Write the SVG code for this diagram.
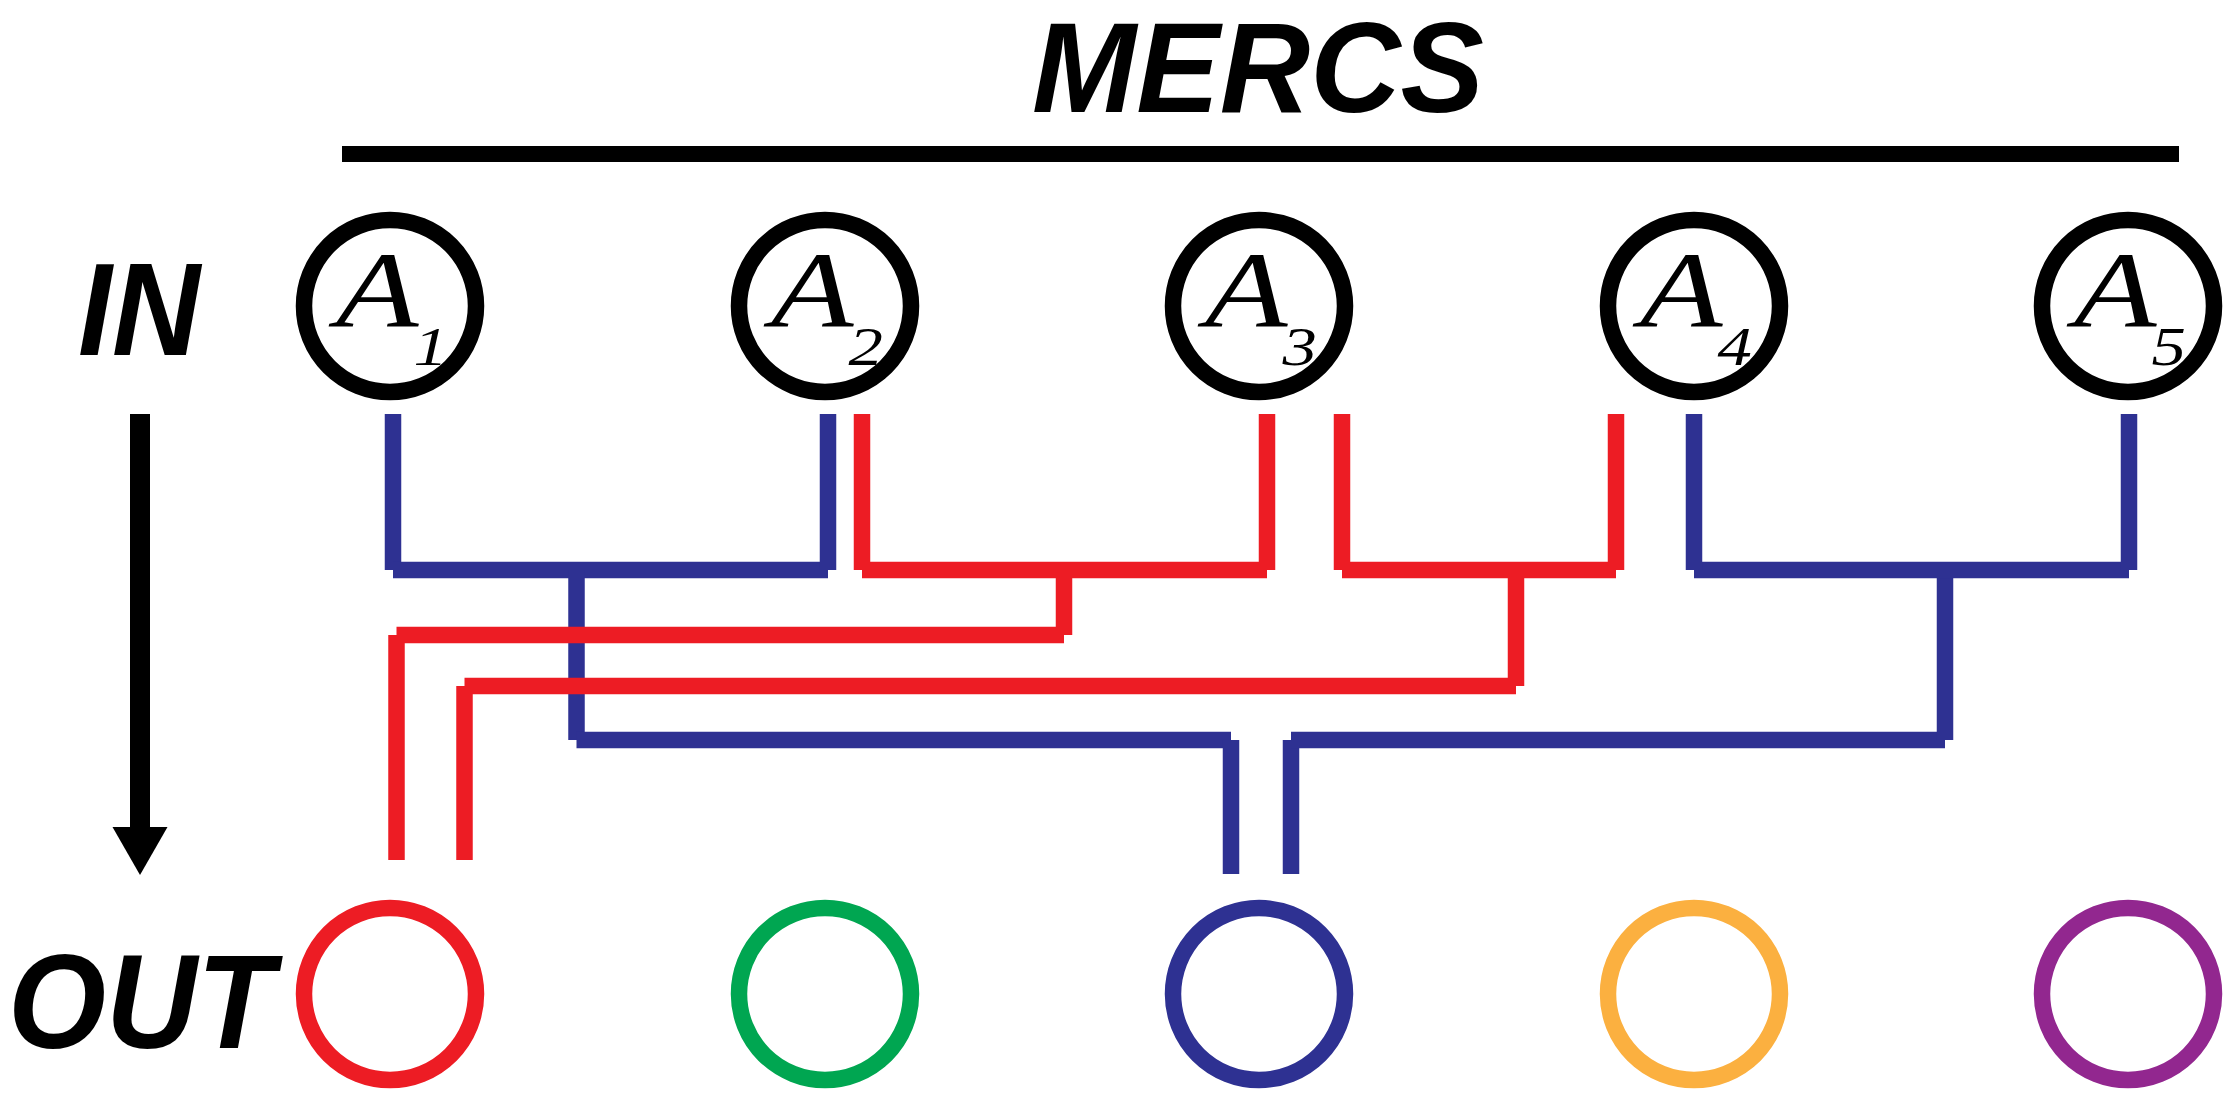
<svg xmlns="http://www.w3.org/2000/svg" width="2226" height="1095" viewBox="0 0 2226 1095">
<style>
.ring{fill:none;stroke-width:16.5}
.top{stroke:#000}
.lbl{font-family:"Liberation Sans",Arial,sans-serif;font-weight:bold;font-style:italic;fill:#000}
.a{font-family:"Liberation Serif","Times New Roman",serif;font-style:italic;fill:#000;font-size:108px}
.s{font-size:55px}
.b line{stroke:#2E3192;stroke-width:16.5;stroke-linecap:butt}
.r line{stroke:#ED1C24;stroke-width:16.5;stroke-linecap:butt}
</style>
<rect width="2226" height="1095" fill="#fff"/>
<text class="lbl" x="1032" y="112" font-size="128" textLength="452" lengthAdjust="spacingAndGlyphs">MERCS</text>
<rect x="342" y="146" width="1837" height="16" fill="#000"/>
<text class="lbl" x="78" y="355" font-size="131" textLength="122" lengthAdjust="spacingAndGlyphs">IN</text>
<text class="lbl" x="8" y="1048" font-size="133" textLength="266" lengthAdjust="spacingAndGlyphs">OUT</text>
<g id="arrow">
<rect x="130" y="414" width="20" height="414" fill="#000"/>
<polygon points="112.5,827 167.5,827 140,875" fill="#000"/>
</g>
<g id="A1"><circle class="ring top" cx="390" cy="306" r="86"/><text class="a" transform="translate(336,327) scale(1.25,1)">A<tspan class="s" x="62" y="38">1</tspan></text></g>
<g id="A2"><circle class="ring top" cx="825" cy="306" r="86"/><text class="a" transform="translate(771,327) scale(1.25,1)">A<tspan class="s" x="62" y="38">2</tspan></text></g>
<g id="A3"><circle class="ring top" cx="1259" cy="306" r="86"/><text class="a" transform="translate(1205,327) scale(1.25,1)">A<tspan class="s" x="62" y="38">3</tspan></text></g>
<g id="A4"><circle class="ring top" cx="1694" cy="306" r="86"/><text class="a" transform="translate(1640,327) scale(1.25,1)">A<tspan class="s" x="62" y="38">4</tspan></text></g>
<g id="A5"><circle class="ring top" cx="2128" cy="306" r="86"/><text class="a" transform="translate(2074,327) scale(1.25,1)">A<tspan class="s" x="62" y="38">5</tspan></text></g>
<g id="connectors">
<g class="b">
<line x1="393" y1="414" x2="393" y2="570"/>
<line x1="393" y1="570" x2="828" y2="570"/>
<line x1="828" y1="414" x2="828" y2="570"/>
<line x1="576.5" y1="570" x2="576.5" y2="740"/>
<line x1="576.5" y1="740" x2="1231" y2="740"/>
<line x1="1231" y1="740" x2="1231" y2="874"/>
<line x1="1291" y1="740" x2="1291" y2="874"/>
<line x1="1291" y1="740" x2="1945" y2="740"/>
<line x1="1945" y1="570" x2="1945" y2="740"/>
<line x1="1694" y1="570" x2="2129" y2="570"/>
<line x1="1694" y1="414" x2="1694" y2="570"/>
<line x1="2129" y1="414" x2="2129" y2="570"/>
</g>
<g class="r">
<line x1="862" y1="414" x2="862" y2="570"/>
<line x1="862" y1="570" x2="1267" y2="570"/>
<line x1="1267" y1="414" x2="1267" y2="570"/>
<line x1="1064" y1="570" x2="1064" y2="635"/>
<line x1="396.5" y1="635" x2="1064" y2="635"/>
<line x1="396.5" y1="635" x2="396.5" y2="860"/>
<line x1="1342" y1="414" x2="1342" y2="570"/>
<line x1="1342" y1="570" x2="1616" y2="570"/>
<line x1="1616" y1="414" x2="1616" y2="570"/>
<line x1="1516" y1="570" x2="1516" y2="686"/>
<line x1="464.5" y1="686" x2="1516" y2="686"/>
<line x1="464.5" y1="686" x2="464.5" y2="860"/>
</g>
</g>
<g id="O1"><circle class="ring" stroke="#ED1C24" cx="390" cy="994" r="86"/></g>
<g id="O2"><circle class="ring" stroke="#00A651" cx="825" cy="994" r="86"/></g>
<g id="O3"><circle class="ring" stroke="#2E3192" cx="1259" cy="994" r="86"/></g>
<g id="O4"><circle class="ring" stroke="#FBB040" cx="1694" cy="994" r="86"/></g>
<g id="O5"><circle class="ring" stroke="#92278F" cx="2128" cy="994" r="86"/></g>
</svg>
